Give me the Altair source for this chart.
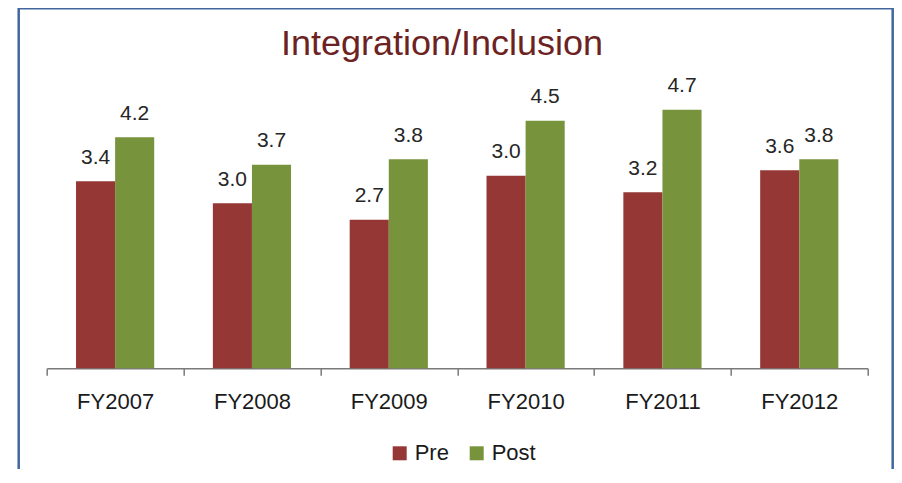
import altair as alt
import pandas as pd

title_text = ["Integration/Inclusion"]
categories = ["FY2007", "FY2008", "FY2009", "FY2010", "FY2011", "FY2012"]
series = ["Pre", "Post"]
pre_values = [3.4, 3.0, 2.7, 3.5, 3.2, 3.6]
post_values = [4.2, 3.7, 3.8, 4.5, 4.7, 3.8]
pre_labels = ["3.4", "3.0", "2.7", "3.0", "3.2", "3.6"]
post_labels = ["4.2", "3.7", "3.8", "4.5", "4.7", "3.8"]
colors = ["#953735", "#77933C"]

rows = []
for i, c in enumerate(categories):
    rows.append({"year": c, "series": "Pre", "value": pre_values[i], "label": pre_labels[i]})
    rows.append({"year": c, "series": "Post", "value": post_values[i], "label": post_labels[i]})
df = pd.DataFrame(rows)

FONT = "Liberation Sans, Arial, sans-serif"
W, H = 821, 275

x = alt.X(
    "year:N", sort=categories,
    scale=alt.Scale(paddingInner=0, paddingOuter=0),
    axis=alt.Axis(
        title=None, labelAngle=0, tickBand="extent",
        domainColor="#7a7a7a", domainWidth=1.5, tickColor="#7a7a7a", tickWidth=1.5,
        tickSize=7, labelFont=FONT, labelFontSize=22, labelColor="#1a1a1a",
        labelBaseline="alphabetic", labelPadding=33,
    ),
)
xo = alt.XOffset("series:N", sort=series, scale=alt.Scale(paddingInner=0, paddingOuter=0.75))
y = alt.Y("value:Q", scale=alt.Scale(domain=[0, 5]), axis=None)
color = alt.Color(
    "series:N", sort=series,
    scale=alt.Scale(domain=series, range=colors),
    legend=alt.Legend(
        title=None, orient="none", legendX=342, legendY=349, direction="horizontal",
        symbolType="square", symbolSize=196, symbolStrokeWidth=0,
        labelFont=FONT, labelFontSize=22, labelColor="#1a1a1a",
        columnPadding=16, labelOffset=4, padding=0,
    ),
)

base = alt.Chart(df)
bars = base.mark_bar().encode(x=x, xOffset=xo, y=y, color=color)
labels = base.mark_text(
    font=FONT, fontSize=21, color="#262626", baseline="alphabetic", dy=-17.5
).encode(x=x, xOffset=xo, y=y, text="label:N")

frame = alt.Chart(alt.Data(values=[{}])).mark_rect(
    fillOpacity=0, stroke="#41679E", strokeWidth=2.5
).encode(x=alt.value(-28), x2=alt.value(846), y=alt.value(-85), y2=alt.value(420))

title = alt.Chart(alt.Data(values=[{"t": t} for t in title_text])).mark_text(
    font=FONT, fontSize=36, color="#6D2222", align="center", baseline="alphabetic"
).encode(x=alt.value(395.3), y=alt.value(-38.3), text="t:N")

chart = alt.layer(frame, title, bars, labels).properties(
    width=W, height=H,
    padding={"left": 38.7, "top": 85.3, "right": 26, "bottom": 101},
    autosize="none",
    background="white",
).configure_view(stroke="transparent", strokeWidth=0)

chart.save("out.html", embed_options={"renderer": "svg", "actions": False})
